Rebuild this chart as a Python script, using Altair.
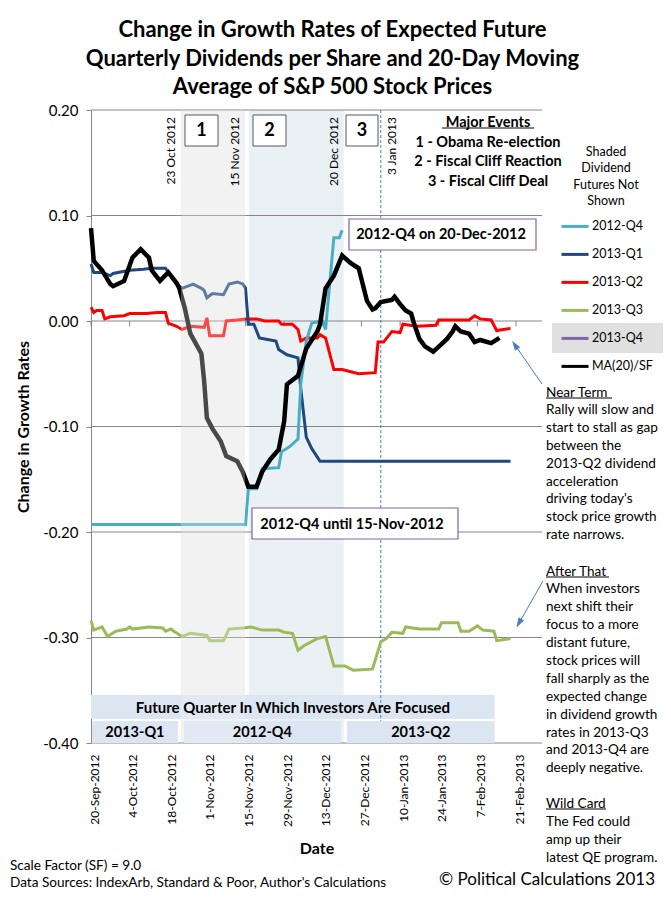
import altair as alt
import pandas as pd

FONT = "Lato"

# ---------------- data ----------------
series_names = ["2012-Q4", "2013-Q1", "2013-Q2", "2013-Q3", "2013-Q4", "MA(20)/SF"]
series_colors = ["#4BACC6", "#1F497D", "#FF0000", "#9BBB59", "#8064A2", "#000000"]

q4_2012_dates = ["2012-09-20", "2012-11-15", "2012-11-16", "2012-11-19", "2012-11-21",
                 "2012-11-27", "2012-11-28", "2012-12-01", "2012-12-04", "2012-12-05",
                 "2012-12-07", "2012-12-09", "2012-12-13", "2012-12-14", "2012-12-17",
                 "2012-12-19", "2012-12-20"]
q4_2012_vals = [-0.193, -0.193, -0.159, -0.159, -0.140, -0.139, -0.124, -0.119, -0.112,
                -0.060, -0.019, -0.002, 0.000, -0.008, 0.079, 0.079, 0.086]

q1_2013_dates = ["2012-09-20", "2012-09-21", "2012-09-24", "2012-09-27", "2012-09-28",
                 "2012-10-04", "2012-10-09", "2012-10-12", "2012-10-17", "2012-10-18",
                 "2012-10-22", "2012-10-23", "2012-10-27", "2012-10-30", "2012-10-31",
                 "2012-11-01", "2012-11-03", "2012-11-07", "2012-11-09", "2012-11-12",
                 "2012-11-14", "2012-11-15", "2012-11-16", "2012-11-18", "2012-11-20",
                 "2012-11-22", "2012-11-26", "2012-11-27", "2012-11-30", "2012-12-04",
                 "2012-12-05", "2012-12-07", "2012-12-09", "2012-12-12", "2013-02-19"]
q1_2013_vals = [0.054, 0.046, 0.046, 0.043, 0.045, 0.048, 0.049, 0.050, 0.050, 0.046,
                0.033, 0.031, 0.035, 0.031, 0.029, 0.022, 0.026, 0.025, 0.035, 0.037,
                0.035, 0.031, -0.003, -0.003, -0.016, -0.017, -0.019, -0.027, -0.032,
                -0.035, -0.064, -0.110, -0.121, -0.133, -0.133]

q2_2013_dates = ["2012-09-20", "2012-09-21", "2012-09-22", "2012-09-24", "2012-09-25",
                 "2012-09-27", "2012-10-02", "2012-10-04", "2012-10-10", "2012-10-14",
                 "2012-10-17", "2012-10-18", "2012-10-21", "2012-10-23", "2012-10-26",
                 "2012-10-31", "2012-11-01", "2012-11-02", "2012-11-07", "2012-11-08",
                 "2012-11-12", "2012-11-15", "2012-11-19", "2012-11-22", "2012-11-27",
                 "2012-11-28", "2012-12-02", "2012-12-04", "2012-12-05", "2012-12-07",
                 "2012-12-11", "2012-12-12", "2012-12-14", "2012-12-17", "2012-12-20",
                 "2012-12-26", "2013-01-01", "2013-01-02", "2013-01-04", "2013-01-07",
                 "2013-01-10", "2013-01-11", "2013-01-16", "2013-01-23", "2013-01-24",
                 "2013-02-04", "2013-02-06", "2013-02-08", "2013-02-12", "2013-02-14",
                 "2013-02-19"]
q2_2013_vals = [0.013, 0.008, 0.010, 0.010, 0.002, 0.004, 0.005, 0.007, 0.007, 0.008,
                0.008, -0.002, -0.005, -0.008, -0.005, -0.006, 0.003, -0.014, -0.014, 0.000,
                0.001, 0.002, 0.002, 0.000, 0.000, -0.003, -0.003, -0.008, -0.019, -0.016,
                -0.016, -0.013, -0.016, -0.046, -0.046, -0.050, -0.049, -0.020, -0.020, -0.010,
                -0.011, -0.003, -0.005, -0.004, 0.001, 0.001, 0.005, 0.002, 0.001, -0.009,
                -0.007]

q3_2013_dates = ["2012-09-20", "2012-09-21", "2012-09-24", "2012-09-26", "2012-09-29",
                 "2012-10-03", "2012-10-04", "2012-10-05", "2012-10-11", "2012-10-16",
                 "2012-10-17", "2012-10-19", "2012-10-20", "2012-10-23", "2012-10-26",
                 "2012-11-01", "2012-11-02", "2012-11-07", "2012-11-09", "2012-11-14",
                 "2012-11-17", "2012-11-21", "2012-11-27", "2012-11-29", "2012-12-02",
                 "2012-12-04", "2012-12-06", "2012-12-11", "2012-12-14", "2012-12-17",
                 "2012-12-21", "2012-12-24", "2012-12-31", "2013-01-03", "2013-01-05",
                 "2013-01-07", "2013-01-11", "2013-01-12", "2013-01-17", "2013-01-24",
                 "2013-01-25", "2013-01-31", "2013-02-01", "2013-02-04", "2013-02-07",
                 "2013-02-09", "2013-02-13", "2013-02-14", "2013-02-19"]
q3_2013_vals = [-0.284, -0.293, -0.290, -0.299, -0.294, -0.292, -0.290, -0.292, -0.290,
                -0.291, -0.294, -0.292, -0.294, -0.299, -0.296, -0.298, -0.303, -0.303,
                -0.292, -0.291, -0.290, -0.293, -0.293, -0.295, -0.296, -0.312, -0.308,
                -0.301, -0.299, -0.327, -0.327, -0.331, -0.330, -0.304, -0.301, -0.295,
                -0.296, -0.290, -0.292, -0.292, -0.286, -0.286, -0.294, -0.294, -0.289,
                -0.293, -0.294, -0.303, -0.301]

ma_dates = ["2012-09-20", "2012-09-21", "2012-09-24", "2012-09-27", "2012-09-28",
            "2012-10-02", "2012-10-05", "2012-10-08", "2012-10-11", "2012-10-12",
            "2012-10-15", "2012-10-18", "2012-10-21", "2012-10-22", "2012-10-24",
            "2012-10-26", "2012-10-30", "2012-10-31", "2012-11-01", "2012-11-03",
            "2012-11-06", "2012-11-08", "2012-11-12", "2012-11-14", "2012-11-16",
            "2012-11-19", "2012-11-21", "2012-11-24", "2012-11-27", "2012-11-29",
            "2012-11-30", "2012-12-04", "2012-12-07", "2012-12-11", "2012-12-12",
            "2012-12-14", "2012-12-17", "2012-12-20", "2012-12-23", "2012-12-26",
            "2012-12-29", "2012-12-31", "2013-01-01", "2013-01-03", "2013-01-07",
            "2013-01-08", "2013-01-10", "2013-01-12", "2013-01-14", "2013-01-15",
            "2013-01-17", "2013-01-19", "2013-01-22", "2013-01-25", "2013-01-27",
            "2013-01-29", "2013-01-30", "2013-02-01", "2013-02-04", "2013-02-06",
            "2013-02-08", "2013-02-12", "2013-02-15"]
ma_vals = [0.088, 0.057, 0.048, 0.035, 0.033, 0.038, 0.060, 0.068, 0.060, 0.048,
           0.038, 0.046, 0.036, 0.031, 0.012, -0.012, -0.031, -0.057, -0.092, -0.102,
           -0.114, -0.128, -0.133, -0.143, -0.157, -0.157, -0.143, -0.131, -0.122, -0.095,
           -0.060, -0.052, -0.026, -0.010, -0.003, 0.031, 0.043, 0.062, 0.055, 0.050,
           0.019, 0.011, 0.012, 0.018, 0.020, 0.023, 0.016, 0.010, 0.007, -0.002,
           -0.017, -0.024, -0.029, -0.022, -0.017, -0.010, -0.005, -0.010, -0.012, -0.020,
           -0.018, -0.021, -0.016]

# axis ticks
tick_dates = ["2012-09-20", "2012-10-04", "2012-10-18", "2012-11-01", "2012-11-15",
              "2012-11-29", "2012-12-13", "2012-12-27", "2013-01-10", "2013-01-24",
              "2013-02-07", "2013-02-21"]
y_ticks = [-0.4, -0.3, -0.2, -0.1, 0.0, 0.1, 0.2]
x_domain = ["2012-09-20T00:00Z", "2013-03-02T10:00Z"]

# event shading / markers
event_region_names = ["Obama Re-election", "Fiscal Cliff Reaction"]
event_region_start = ["2012-10-22T14:00Z", "2012-11-16T05:00Z"]
event_region_end = ["2012-11-14T18:00Z", "2012-12-20T14:00Z"]
event_line_dates = ["2012-10-22T14:00Z", "2012-11-14T18:00Z", "2012-12-20T14:00Z"]
event_line_labels = ["23 Oct 2012", "15 Nov 2012", "20 Dec 2012"]
deal_date = ["2013-01-03T00:00Z"]
deal_label = ["3 Jan 2013"]

focus_label = "Future Quarter In Which Investors Are Focused"
focus_start = "2012-09-20T00:00Z"
focus_end = "2013-02-13T07:00Z"
quarter_labels = ["2013-Q1", "2012-Q4", "2013-Q2"]
quarter_start = ["2012-09-20T08:00Z", "2012-10-23T17:00Z", "2012-12-21T17:00Z"]
quarter_end = ["2012-10-21T12:00Z", "2012-12-19T12:00Z", "2013-02-13T07:00Z"]

# ---------------- tables ----------------
def frame(name, dates, vals):
    return pd.DataFrame({"date": dates, "value": vals, "series": name})

div_df = pd.concat([
    frame("2013-Q3", q3_2013_dates, q3_2013_vals),
    frame("2013-Q2", q2_2013_dates, q2_2013_vals),
    frame("2013-Q1", q1_2013_dates, q1_2013_vals),
    frame("2012-Q4", q4_2012_dates, q4_2012_vals),
], ignore_index=True)
ma_df = frame("MA(20)/SF", ma_dates, ma_vals)

def mid(a, b):
    ta, tb = pd.Timestamp(a), pd.Timestamp(b)
    return (ta + (tb - ta) / 2).strftime("%Y-%m-%dT%H:%MZ")

region_df = pd.DataFrame({"name": event_region_names, "start": event_region_start, "end": event_region_end})
evline_df = pd.DataFrame({"date": event_line_dates, "label": event_line_labels})
deal_df = pd.DataFrame({"date": deal_date, "label": deal_label})
focus_df = pd.DataFrame({"start": [focus_start], "end": [focus_end], "label": [focus_label],
                         "mid": [mid(focus_start, focus_end)]})
quarter_df = pd.DataFrame({"label": quarter_labels, "start": quarter_start, "end": quarter_end,
                           "mid": [mid(a, b) for a, b in zip(quarter_start, quarter_end)]})
grid_df = pd.DataFrame({"v": y_ticks})
tick_df = pd.DataFrame({"date": tick_dates})


def dt(s):
    t = pd.Timestamp(s)
    return alt.DateTime(year=t.year, month=t.month, date=t.day, hours=t.hour,
                        minutes=t.minute, utc=True)


x_scale = alt.Scale(type="utc", domain=[dt(d) for d in x_domain])
y_scale = alt.Scale(domain=[-0.4, 0.2], nice=False, zero=False)
GRID = "#868686"
ARROW = "#4A7EBB"

x_axis = alt.Axis(values=[dt(d) for d in tick_dates],
                  labelExpr="utcFormat(datum.value, '%-d-%b-%Y')",
                  labelAngle=-90, labelFont=FONT, labelFontSize=12, labelColor="black",
                  labelPadding=11, labelOffset=3, labelFlush=False, labelOverlap=False,
                  ticks=False, tickSize=0, domain=False, grid=False,
                  title="Date", titleFont=FONT, titleFontSize=16, titleFontWeight="bold",
                  titleColor="black", titlePadding=14)
y_axis = alt.Axis(values=y_ticks,
                  labelExpr="(datum.value < 0 ? '-' : '') + format(abs(datum.value), '.2f')",
                  labelFont=FONT, labelFontSize=15, labelColor="black", labelPadding=8,
                  tickSize=5, tickColor=GRID, domainColor=GRID, grid=False,
                  title="Change in Growth Rates", titleFont=FONT, titleFontSize=16,
                  titleFontWeight="bold", titleColor="black", titlePadding=11)

color_scale = alt.Scale(domain=series_names, range=series_colors)
legend = alt.Legend(orient="none", legendX=469, legendY=36,
                    title=["Shaded", "Dividend", "Futures Not", "Shown"],
                    titleFont=FONT, titleFontSize=12.5, titleFontWeight="normal",
                    titleColor="black", titleAlign="center", titleAnchor="middle",
                    titleLineHeight=16.3, titlePadding=4, titleLimit=300,
                    labelFont=FONT, labelFontSize=12.5, labelColor="black", labelOffset=2,
                    symbolType="stroke", symbolSize=729, symbolStrokeWidth=3,
                    rowPadding=6, padding=0, offset=0)


def X(field):
    return alt.X(field, type="temporal", scale=x_scale, axis=x_axis)


def Y(field):
    return alt.Y(field, type="quantitative", scale=y_scale, axis=y_axis)


one = pd.DataFrame({"k": [0]})


def note(text, x, y, size=13, weight="normal", align="left", baseline="alphabetic",
         line_height=None, angle=None):
    kw = dict(font=FONT, fontSize=size, fontWeight=weight, align=align,
              baseline=baseline, color="black")
    if line_height is not None:
        kw["lineHeight"] = line_height
    if angle is not None:
        kw["angle"] = angle
    return alt.Chart(one).mark_text(**kw).encode(
        x=alt.value(x), y=alt.value(y), text=alt.value(text))


def box(x1, x2, y1, y2, fill, stroke=None, sw=1.0):
    kw = dict(fill=fill)
    if stroke:
        kw.update(stroke=stroke, strokeWidth=sw)
    return alt.Chart(one).mark_rect(**kw).encode(
        x=alt.value(x1), x2=alt.value(x2), y=alt.value(y1), y2=alt.value(y2))


def seg(x1, y1, x2, y2, color="black", sw=1.0):
    return alt.Chart(one).mark_rule(color=color, strokeWidth=sw).encode(
        x=alt.value(x1), x2=alt.value(x2), y=alt.value(y1), y2=alt.value(y2))


def arrow_head(x, y, angle):
    return alt.Chart(one).mark_point(shape="M0,-1L0.6,0.9L-0.6,0.9Z", filled=True,
                                     color=ARROW, opacity=1, size=110, angle=angle).encode(
        x=alt.value(x), y=alt.value(y))


# ---------------- layers ----------------
region1_under = alt.Chart(region_df.iloc[[0]]).mark_rect(fill="#F2F2F2").encode(
    x=X("start"), x2="end")
region2_under = alt.Chart(region_df.iloc[[1]]).mark_rect(fill="#E9F1F5").encode(
    x=X("start"), x2="end")

grid = alt.Chart(grid_df).mark_rule(color=GRID, strokeWidth=1).encode(y=Y("v"))

zero_ticks = alt.Chart(tick_df).mark_rule(color=GRID, strokeWidth=1).encode(
    x=X("date"), y=alt.datum(0.0), y2=alt.datum(-0.005))

focus_box = alt.Chart(focus_df).mark_rect(fill="#DCE6F2").encode(
    x=X("start"), x2="end", y=alt.value(585), y2=alt.value(609))

deal_line = alt.Chart(deal_df).mark_rule(color="#4F81BD", strokeWidth=1, strokeDash=[3, 2]).encode(
    x=X("date"))

quarter_boxes = alt.Chart(quarter_df).mark_rect(fill="#DCE6F2").encode(
    x=X("start"), x2="end", y=alt.value(611), y2=alt.value(633))

div_lines = alt.Chart(div_df).mark_line(strokeWidth=3).encode(
    x=X("date"), y=Y("value"),
    color=alt.Color("series:N", scale=color_scale, legend=legend),
    detail="series:N")

ma_line = alt.Chart(ma_df).mark_line(strokeWidth=4.5).encode(
    x=X("date"), y=Y("value"),
    color=alt.Color("series:N", scale=color_scale, legend=legend))

region1_overlay = alt.Chart(region_df.iloc[[0]]).mark_rect(fill="#F2F2F2", opacity=0.3).encode(
    x=X("start"), x2="end")

evline_text = alt.Chart(evline_df).mark_text(font=FONT, fontSize=12, angle=270, align="right",
                                            baseline="bottom", color="black", xOffset=-3).encode(
    x=X("date"), y=alt.value(7), text="label:N")
deal_text = alt.Chart(deal_df).mark_text(font=FONT, fontSize=12, angle=270, align="right",
                                         baseline="top", color="black", xOffset=6).encode(
    x=X("date"), y=alt.value(7), text="label:N")

focus_text = alt.Chart(focus_df).mark_text(font=FONT, fontSize=15, fontWeight="bold",
                                           color="black", baseline="middle").encode(
    x=X("mid"), y=alt.value(597.5), text="label:N")
quarter_text = alt.Chart(quarter_df).mark_text(font=FONT, fontSize=14.5, fontWeight="bold",
                                               color="black", baseline="middle").encode(
    x=X("mid"), y=alt.value(622.5), text="label:N")

layers = [
    region1_under, region2_under, grid, zero_ticks, focus_box, deal_line, quarter_boxes,
    div_lines, ma_line, region1_overlay,
    evline_text, deal_text, focus_text, quarter_text,
    # numbered event boxes
    box(94, 127, 5, 36, "white", "#595959"), note("1", 110.5, 21, 18, "bold", "center", "middle"),
    box(162, 195, 5, 36, "white", "#595959"), note("2", 178.5, 21, 18, "bold", "center", "middle"),
    box(255, 287, 5, 36, "white", "#595959"), note("3", 271, 21, 18, "bold", "center", "middle"),
    # callout boxes
    box(258, 445, 109, 140, "white", "#8064A2", 1.2),
    note("2012-Q4 on 20-Dec-2012", 350, 125, 14.5, "bold", "center", "middle"),
    box(161, 367, 398, 429, "white", "#8064A2", 1.2),
    note("2012-Q4 until 15-Nov-2012", 261, 415, 14.5, "bold", "center", "middle"),
    # major events
    note(["Major Events", "1 - Obama Re-election", "2 - Fiscal Cliff Reaction",
          "3 - Fiscal Cliff Deal"], 397, 17, 14.5, "bold", "center", "alphabetic", 19.5),
    seg(351, 18, 443, 18, "black", 1),
    # legend highlight box for the hidden series
    box(461, 572, 213, 243, "#E0E0E0"),
    # right-hand notes
    note(["Near Term", "Rally will slow and", "start to stall as gap", "between the",
          "2013-Q2 dividend", "acceleration", "driving today's", "stock price growth",
          "rate narrows."], 455, 286.5, 13.6, line_height=17.8),
    seg(455, 288, 521, 288, "black", 1),
    note(["After That", "When investors", "next shift their", "focus to a more",
          "distant future,", "stock prices will", "fall sharply as the", "expected change",
          "in dividend growth", "rates in 2013-Q3", "and 2013-Q4  are", "deeply negative."],
         455, 465.5, 13.6, line_height=17.9),
    seg(455, 467, 518, 467, "black", 1),
    note(["Wild Card", "The Fed could", "amp up their", "latest QE program."],
         455, 697.5, 13.6, line_height=18),
    seg(455, 699, 515, 699, "black", 1),
    # arrows
    seg(451, 274, 424, 235, ARROW, 1), arrow_head(424, 235, 326),
    seg(452, 471, 428, 513, ARROW, 1), arrow_head(428, 513, 209),
    # footer
    note("Scale Factor (SF) = 9.0", -81, 756, 13.6, baseline="middle"),
    note("Data Sources: IndexArb, Standard & Poor, Author's Calculations", -81, 773, 13.6,
         baseline="middle"),
    note("\u00a9 Political Calculations 2013", 564, 770, 17, align="right", baseline="middle"),
]

chart = alt.layer(*layers).properties(
    width=451, height=633,
    padding={"left": 83, "top": 102, "right": 121, "bottom": 148},
    autosize=alt.AutoSizeParams(type="none"),
    background="white",
    title=alt.TitleParams(
        text=["Change in Growth Rates of Expected Future",
              "Quarterly Dividends per Share and 20-Day Moving",
              "Average of S&P 500 Stock Prices"],
        font=FONT, fontSize=22, fontWeight="bold", color="black", lineHeight=28.5,
        anchor="middle", dx=16, offset=4, frame="group"),
).configure_view(stroke=None)

chart.save("out.html", embed_options={"renderer": "svg", "actions": False})
